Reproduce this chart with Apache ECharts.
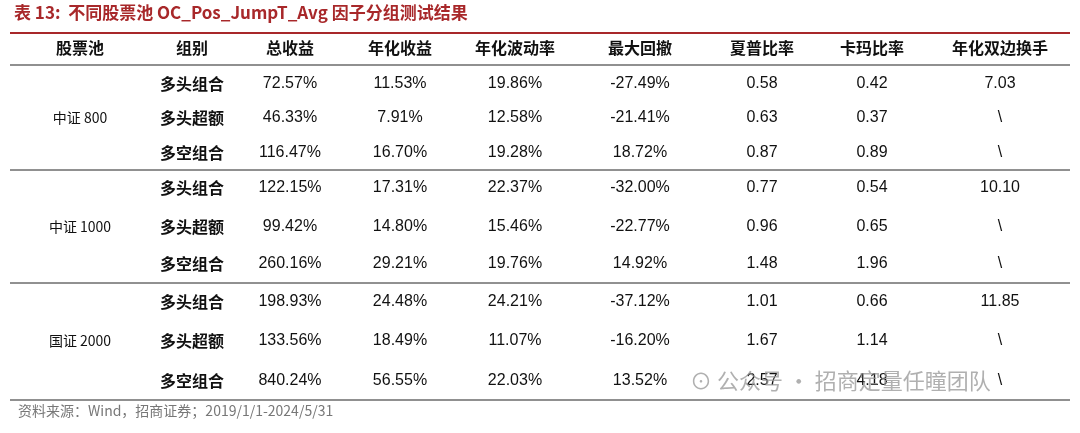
<!DOCTYPE html>
<html><head><meta charset="utf-8">
<script src="https://cdn.jsdelivr.net/npm/echarts@6/dist/echarts.min.js"></script>
<style>html,body{margin:0;padding:0;background:#fff}#c{width:1080px;height:433px}</style>
</head><body><div id="c"></div>
<script>
const title = '表 13:  不同股票池 OC_Pos_JumpT_Avg 因子分组测试结果';
const source = '资料来源：Wind，招商证券；2019/1/1-2024/5/31';
const headers = ['股票池','组别','总收益','年化收益','年化波动率','最大回撤','夏普比率','卡玛比率','年化双边换手'];
const pools = ['中证 800','中证 1000','国证 2000'];
const groups = ['多头组合','多头超额','多空组合'];
const totalRet = ['72.57%','46.33%','116.47%','122.15%','99.42%','260.16%','198.93%','133.56%','840.24%'];
const annRet = ['11.53%','7.91%','16.70%','17.31%','14.80%','29.21%','24.48%','18.49%','56.55%'];
const annVol = ['19.86%','12.58%','19.28%','22.37%','15.46%','19.76%','24.21%','11.07%','22.03%'];
const maxDD = ['-27.49%','-21.41%','18.72%','-32.00%','-22.77%','14.92%','-37.12%','-16.20%','13.52%'];
const sharpe = ['0.58','0.63','0.87','0.77','0.96','1.48','1.01','1.67','2.57'];
const calmar = ['0.42','0.37','0.89','0.54','0.65','1.96','0.66','1.14','4.18'];
const turnover = ['7.03','\\','\\','10.10','\\','\\','11.85','\\','\\'];

const colX = [80,192,290,400,515,640,762,872,1000];
const rowY = [84,118,153,188,227,264,302,341,381];
const poolY = [118,227,341];
const headerY = 48;
const lines = [[33,2,'#a8282a'],[65,1.2,'#222'],[170,1,'#222'],[283,1,'#222'],[400,1.2,'#222']];
const red = '#a8282a';
const cjk = '"Noto Sans CJK SC", sans-serif';
const num = '"Liberation Sans", Arial, sans-serif';

const g = [];
g.push({type:'text',left:14,top:4,style:{text:title,fill:red,font:'bold 17px '+cjk}});
lines.forEach(l=>g.push({type:'line',shape:{x1:10,y1:l[0],x2:1070,y2:l[0]},style:{stroke:l[2],lineWidth:l[1]}}));
headers.forEach((h,i)=>g.push({type:'text',x:colX[i],y:headerY,style:{text:h,fill:'#111',font:'bold 16px '+cjk,align:'center',verticalAlign:'middle'}}));
pools.forEach((p,i)=>g.push({type:'text',x:colX[0],y:poolY[i],style:{text:p,fill:'#111',font:'14px '+cjk,align:'center',verticalAlign:'middle'}}));
const cols = [totalRet,annRet,annVol,maxDD,sharpe,calmar,turnover];
rowY.forEach((y,r)=>{
  g.push({type:'text',x:colX[1],y:y,style:{text:groups[r%3],fill:'#111',font:'bold 16px '+cjk,align:'center',verticalAlign:'middle'}});
  cols.forEach((c,k)=>g.push({type:'text',x:colX[k+2],y:y,style:{text:c[r],fill:'#111',font:'16px '+num,align:'center',verticalAlign:'middle'}}));
});
g.push({type:'text',left:18,top:404,style:{text:source,fill:'#777',font:'14px '+cjk}});
g.push({type:'text',left:690,top:370,z:10,style:{text:'⊙ 公众号 · 招商定量任瞳团队',fill:'rgba(150,150,150,0.75)',font:'22px '+cjk}});

const chart = echarts.init(document.getElementById('c'));
chart.setOption({animation:false,backgroundColor:'#fff',graphic:g});
</script></body></html>
